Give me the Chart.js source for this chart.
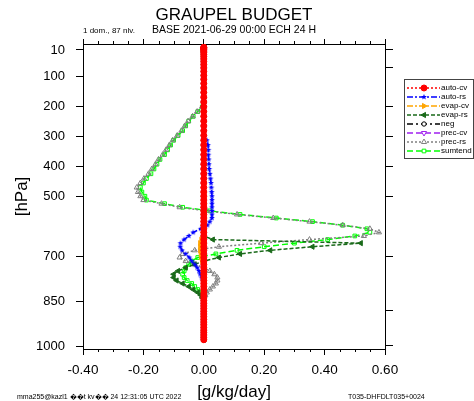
<!DOCTYPE html>
<html>
<head>
<meta charset="utf-8">
<script src="https://cdn.jsdelivr.net/npm/chart.js@4.4.0/dist/chart.umd.min.js"></script>
<style>
  body { margin: 0; background: #fff; }
  canvas { display: block; }
</style>
</head>
<body>
<canvas id="budget" width="474" height="401"></canvas>
<script>
// model level pressures [hPa], top to bottom
var levels = [
  1, 2, 4, 7, 10, 14, 19, 25, 32, 40,
  49, 59, 70, 82, 95, 108, 122, 137, 152, 168,
  184, 200, 216, 232, 248, 264, 280, 296, 312, 328,
  344, 360, 376, 392, 408, 424, 440, 455, 470, 485,
  499, 512, 524, 536, 548, 560, 572, 584, 596, 608,
  620, 632, 644, 656, 668, 680, 692, 704, 716, 727,
  738, 749, 760, 771, 781, 791, 801, 811, 821, 830,
  839, 848, 857, 866, 875, 884, 893, 902, 911, 920,
  929, 938, 947, 955, 963, 971, 979
];

// tendencies [g/kg/day] per level
var autoCv = [
  0, 0, 0, 0, 0, 0, 0, 0, 0, 0,
  0, 0, 0, 0, 0, 0, 0, 0, 0, 0,
  0, 0, 0, 0, 0, 0, 0, 0, 0, 0,
  0, 0, 0, 0, 0, 0, 0, 0, 0, 0,
  0, 0, 0, 0, 0, 0, 0, 0, 0, 0,
  0, 0, 0, 0, 0, 0, 0, 0, 0, 0,
  0, 0, 0, 0, 0, 0, 0, 0, 0, 0,
  0, 0, 0, 0, 0, 0, 0, 0, 0, 0,
  0, 0, 0, 0, 0, 0, 0
];
var autoRs = [
  0, 0, 0, 0, 0, 0, 0, 0, 0, 0,
  0, 0, 0, 0, 0, 0, 0, 0, 0, 0,
  0, 0, 0, 0, 0, 0, 0, 0, 0.01, 0.014,
  0.015, 0.015, 0.016, 0.017, 0.018, 0.02, 0.022, 0.024, 0.025, 0.026,
  0.027, 0.027, 0.027, 0.027, 0.027, 0.027, 0.027, 0.02, 0.012, -0.01,
  -0.035, -0.05, -0.065, -0.077, -0.078, -0.072, -0.06, -0.048, -0.04, -0.03,
  -0.022, -0.016, -0.012, -0.007, -0.003, 0, 0, 0, 0, 0,
  0, 0, 0, 0, 0, 0, 0, 0, 0, 0,
  0, 0, 0, 0, 0, 0, 0
];
var evapCv = [
  0, 0, 0, 0, 0, 0, 0, 0, 0, 0,
  0, 0, 0, 0, 0, 0, 0, 0, 0, 0,
  0, 0, 0, 0, 0, 0, 0, 0, 0, 0,
  0, 0, 0, 0, 0, 0, 0, 0, 0, 0,
  0, 0, 0, 0, 0, 0, 0, 0, 0, 0,
  0, 0, -0.008, -0.012, -0.012, -0.012, -0.01, -0.008, -0.005, 0,
  0, 0, 0, 0, 0, 0, 0, 0, 0, 0,
  0, 0, 0, 0, 0, 0, 0, 0, 0, 0,
  0, 0, 0, 0, 0, 0, 0
];
var evapRs = [
  0, 0, 0, 0, 0, 0, 0, 0, 0, 0,
  0, 0, 0, 0, 0, 0, 0, 0, 0, 0,
  0, 0, 0, 0, 0, 0, 0, 0, 0, 0,
  0, 0, 0, 0, 0, 0, 0, 0, 0, 0,
  0, 0, 0, 0, 0, 0, 0, 0, 0, 0,
  0, 0, 0.03, 0.52, 0.36, 0.22, 0.12, 0.05, 0, -0.03,
  -0.06, -0.085, -0.1, -0.1, -0.09, -0.07, -0.05, -0.035, -0.02, -0.01,
  -0.005, 0, 0, 0, 0, 0, 0, 0, 0, 0,
  0, 0, 0, 0, 0, 0, 0
];
var neg = [
  0, 0, 0, 0, 0, 0, 0, 0, 0, 0,
  0, 0, 0, 0, 0, 0, 0, 0, 0, 0,
  0, 0, 0, 0, 0, 0, 0, 0, 0, 0,
  0, 0, 0, 0, 0, 0, 0, 0, 0, 0,
  0, 0, 0, 0, 0, 0, 0, 0, 0, 0,
  0, 0, 0, 0, 0, 0, 0, 0, 0, 0,
  0, 0, 0, 0, 0, 0, 0, 0, 0, 0,
  0, 0, 0, 0, 0, 0, 0, 0, 0, 0,
  0, 0, 0, 0, 0, 0, 0
];
var precCv = [
  0, 0, 0, 0, 0, 0, 0, 0, 0, 0,
  0, 0, 0, 0, 0, 0, 0, 0, 0, 0,
  0, 0, 0, 0, 0, 0, 0, 0, 0, 0,
  0, 0, 0, 0, 0, 0, 0, 0, 0, 0,
  0, 0, 0, 0, 0, 0, 0, 0, 0, 0,
  0, 0, 0, 0, 0, 0, 0, 0, 0, 0,
  0, 0, 0, 0, 0, 0, 0, 0, 0, 0,
  0, 0, 0, 0, 0, 0, 0, 0, 0, 0,
  0, 0, 0, 0, 0, 0, 0
];
var precRs = [
  0, 0, 0, 0, 0, 0, 0, 0, 0, 0,
  0, 0, 0, 0, 0, 0, 0, 0, 0, 0,
  0, -0.006, -0.022, -0.037, -0.052, -0.063, -0.074, -0.088, -0.103, -0.114,
  -0.125, -0.136, -0.15, -0.16, -0.172, -0.183, -0.198, -0.21, -0.222, -0.218,
  -0.21, -0.2, -0.14, -0.08, 0.01, 0.11, 0.23, 0.35, 0.46, 0.55,
  0.58, 0.53, 0.35, 0.19, 0.05, -0.03, -0.07, -0.08, -0.06, -0.03,
  0, 0.02, 0.035, 0.045, 0.045, 0.04, 0.03, 0.02, 0.01, 0.005,
  0, 0, 0, 0, 0, 0, 0, 0, 0, 0,
  0, 0, 0, 0, 0, 0, 0
];
var sumtend = [
  0, 0, 0, 0, 0, 0, 0, 0, 0, 0,
  0, 0, 0, 0, 0, 0, 0, 0, 0, 0,
  0, -0.005, -0.02, -0.035, -0.05, -0.06, -0.07, -0.085, -0.1, -0.11,
  -0.12, -0.13, -0.145, -0.155, -0.165, -0.175, -0.19, -0.2, -0.21, -0.205,
  -0.195, -0.19, -0.13, -0.07, 0.02, 0.12, 0.24, 0.36, 0.46, 0.54,
  0.55, 0.5, 0.41, 0.3, 0.2, 0.11, 0.04, -0.02, -0.04, -0.05,
  -0.06, -0.065, -0.07, -0.065, -0.055, -0.04, -0.03, -0.02, -0.01, -0.005,
  0, 0, 0, 0, 0, 0, 0, 0, 0, 0,
  0, 0, 0, 0, 0, 0, 0
];

// axes
var xTicks = [-0.4, -0.2, 0, 0.2, 0.4, 0.6];
var xMinorTicks = [-0.35, -0.3, -0.25, -0.15, -0.1, -0.05, 0.05, 0.1, 0.15,
                   0.25, 0.3, 0.35, 0.45, 0.5, 0.55];
var yTicks = [10, 100, 200, 300, 400, 500, 700, 850, 1000];
var yRightTicks = [10, 67, 200, 300, 400, 500, 700, 880, 997];

var FONT = '"Liberation Sans", Arial, Helvetica, sans-serif';

// filled five-pointed star used as a marker
function starMarker(color, r) {
  var c = document.createElement('canvas');
  c.width = c.height = 2 * r + 2;
  var g = c.getContext('2d');
  g.fillStyle = color;
  g.beginPath();
  for (var k = 0; k < 10; k++) {
    var rad = k % 2 ? r * 0.45 : r;
    var ang = -Math.PI / 2 + k * Math.PI / 5;
    g.lineTo(r + 1 + rad * Math.cos(ang), r + 1 + rad * Math.sin(ang));
  }
  g.closePath();
  g.fill();
  return c;
}

function series(label, vals, color, dash, style, rotation, radius, fill) {
  return {
    label: label,
    data: levels.map(function (p, i) { return { x: vals[i], y: p }; }),
    borderColor: color,
    borderWidth: 1.5,
    borderDash: dash,
    pointStyle: style,
    rotation: rotation,
    pointRadius: radius,
    pointBorderColor: color,
    pointBackgroundColor: fill ? color : 'rgba(0,0,0,0)',
    pointBorderWidth: 1,
    tension: 0,
    fill: false
  };
}

var datasets = [
  series('auto-cv', autoCv, '#ff0000', [2, 2], 'circle', 0, 3, true),
  series('auto-rs', autoRs, '#0000ff', [6, 2, 2, 2], starMarker('#0000ff', 3), 0, 3, true),
  series('evap-cv', evapCv, '#ffa500', [6, 2, 2, 2], 'triangle', 90, 3, true),
  series('evap-rs', evapRs, '#1a6a1a', [4, 2], 'triangle', -90, 3, true),
  series('neg', neg, '#000000', [6, 3, 2, 3], 'circle', 0, 2.2, false),
  series('prec-cv', precCv, '#a020f0', [6, 3], 'triangle', 180, 3, false),
  series('prec-rs', precRs, '#808080', [2, 2], 'triangle', 0, 3, false),
  series('sumtend', sumtend, '#00ff00', [6, 3], 'rect', 0, 2.6, false)
];

// titles, minor ticks and the boxed legend
var decor = {
  id: 'decor',
  afterDraw: function (chart) {
    var ctx = chart.ctx, a = chart.chartArea, xs = chart.scales.x;
    ctx.save();

    ctx.strokeStyle = '#000';
    ctx.lineWidth = 1;
    xMinorTicks.forEach(function (v) {
      var px = Math.round(xs.getPixelForValue(v)) + 0.5;
      ctx.beginPath();
      ctx.moveTo(px, a.bottom);
      ctx.lineTo(px, a.bottom + 3);
      ctx.moveTo(px, a.top);
      ctx.lineTo(px, a.top - 3);
      ctx.stroke();
    });

    var cx = (a.left + a.right) / 2;
    ctx.fillStyle = '#000';
    ctx.textBaseline = 'alphabetic';
    ctx.textAlign = 'center';
    ctx.font = '17px ' + FONT;
    ctx.fillText('GRAUPEL BUDGET', cx, 20);
    ctx.font = '10.5px ' + FONT;
    ctx.fillText('BASE 2021-06-29 00:00 ECH 24 H', cx, 33);
    ctx.font = '17px ' + FONT;
    ctx.fillText('[g/kg/day]', cx, 397);

    ctx.textAlign = 'left';
    ctx.font = '8px ' + FONT;
    ctx.fillText('1 dom., 87 nlv.', a.left, 33);
    ctx.font = '7px ' + FONT;
    ctx.fillText('mma255@kazl1 \uFFFD\uFFFDt kv\uFFFD\uFFFD 24 12:31:05 UTC 2022', 17, 399);
    ctx.fillText('T035-DHFDLT035+0024', 348, 399);

    ctx.save();
    ctx.translate(22, (a.top + a.bottom) / 2);
    ctx.rotate(-Math.PI / 2);
    ctx.textAlign = 'center';
    ctx.textBaseline = 'middle';
    ctx.font = '17px ' + FONT;
    ctx.fillText('[hPa]', 0, 0);
    ctx.restore();

    // legend
    var lx = 404.5, ly = 79.5;
    ctx.strokeStyle = '#444';
    ctx.lineWidth = 1;
    ctx.setLineDash([]);
    ctx.strokeRect(lx, ly, 69, 79);
    ctx.font = '8px ' + FONT;
    ctx.textBaseline = 'middle';
    chart.data.datasets.forEach(function (ds, i) {
      var y = 88 + i * 9;
      ctx.strokeStyle = ds.borderColor;
      ctx.lineWidth = 1.5;
      ctx.setLineDash(ds.borderDash);
      ctx.beginPath();
      ctx.moveTo(407, y);
      ctx.lineTo(440, y);
      ctx.stroke();
      ctx.setLineDash([]);
      ctx.lineWidth = 1;
      ctx.fillStyle = ds.pointBackgroundColor === 'rgba(0,0,0,0)' ? '#fff' : ds.borderColor;
      Chart.helpers.drawPoint(ctx, {
        pointStyle: ds.pointStyle, rotation: ds.rotation,
        radius: ds.pointRadius, borderWidth: 1
      }, 424, y);
      ctx.fillStyle = '#000';
      ctx.fillText(ds.label, 441, y);
    });
    ctx.restore();
  }
};

function fixedTicks(values) {
  return function (scale) {
    scale.ticks = values.map(function (v) { return { value: v }; });
  };
}

var axisGrid = function (len) {
  return { drawOnChartArea: false, drawTicks: true, tickLength: len, color: '#000', tickColor: '#000', lineWidth: 1 };
};

new Chart(document.getElementById('budget'), {
  type: 'line',
  data: { datasets: datasets },
  options: {
    responsive: false,
    animation: false,
    devicePixelRatio: 1,
    indexAxis: 'y',
    events: [],
    layout: { padding: { left: 0, right: 81, top: 39, bottom: 0 } },
    plugins: { legend: { display: false }, tooltip: { enabled: false } },
    scales: {
      x: {
        type: 'linear', position: 'bottom', min: -0.4, max: 0.6,
        afterBuildTicks: fixedTicks(xTicks),
        afterFit: function (s) { s.height = 52; },
        grid: axisGrid(6),
        border: { display: true, color: '#000', width: 1 },
        ticks: {
          color: '#000', padding: 7, maxRotation: 0, autoSkip: false,
          font: { family: FONT, size: 13.5 },
          callback: function (v) { return v.toFixed(2); }
        }
      },
      xTop: {
        type: 'linear', position: 'top', min: -0.4, max: 0.6,
        afterBuildTicks: fixedTicks(xTicks),
        afterFit: function (s) { s.height = 5; },
        grid: axisGrid(5),
        border: { display: true, color: '#000', width: 1 },
        ticks: { display: false }
      },
      y: {
        type: 'linear', position: 'left', reverse: true, min: -10, max: 1010,
        afterBuildTicks: fixedTicks(yTicks),
        afterFit: function (s) { s.width = 83; },
        grid: axisGrid(7),
        border: { display: true, color: '#000', width: 1 },
        ticks: {
          color: '#000', padding: 11, autoSkip: false,
          font: { family: FONT, size: 13 },
          callback: function (v) { return String(v); }
        }
      },
      yR: {
        type: 'linear', position: 'right', reverse: true, min: -10, max: 1010,
        afterBuildTicks: fixedTicks(yRightTicks),
        afterFit: function (s) { s.width = 8; },
        grid: axisGrid(8),
        border: { display: true, color: '#000', width: 1 },
        ticks: { display: false }
      }
    }
  },
  plugins: [decor]
});
</script>
</body>
</html>
